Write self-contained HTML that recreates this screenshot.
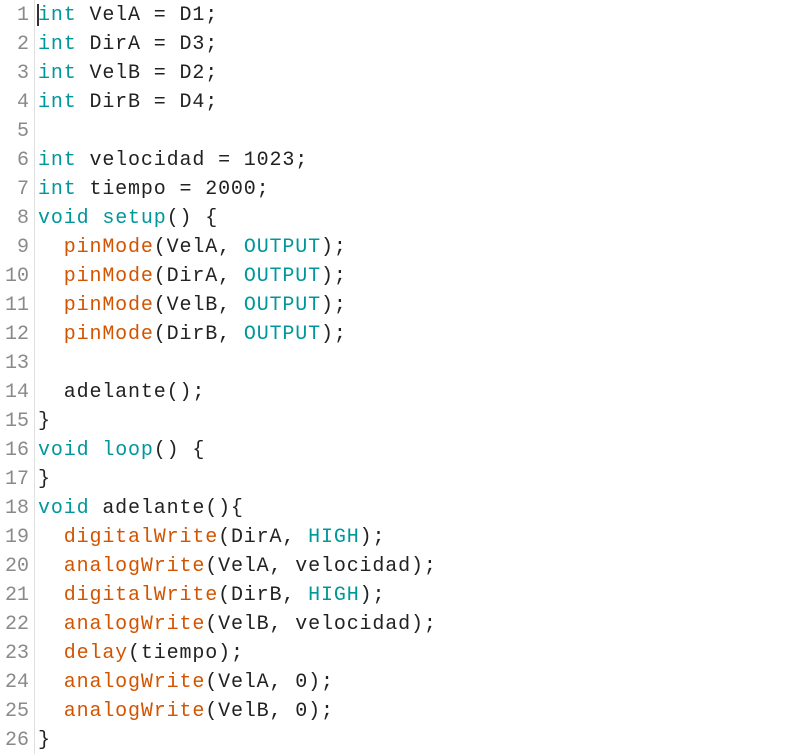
<!DOCTYPE html>
<html><head><style>
body{margin:0;width:794px;height:754px;background:#fff;overflow:hidden;position:relative}
.g{position:absolute;left:0;top:0;width:34px;height:754px;border-right:1px solid #e0e0e0}
pre{margin:0;position:absolute;top:1px;font-family:"Liberation Mono",monospace;font-size:20px;line-height:29px}
.n{left:0;width:29px;text-align:right;color:#8a8a8a}
.c{left:38px;color:#222;letter-spacing:0.86px}
.k{color:#00979c}.f{color:#d35400}
.cur{position:absolute;left:37px;top:4px;width:2px;height:22px;background:#333}
</style></head><body>
<div class="g"></div>
<pre class="n">1
2
3
4
5
6
7
8
9
10
11
12
13
14
15
16
17
18
19
20
21
22
23
24
25
26</pre>
<pre class="c"><span class="k">int</span> VelA = D1;
<span class="k">int</span> DirA = D3;
<span class="k">int</span> VelB = D2;
<span class="k">int</span> DirB = D4;

<span class="k">int</span> velocidad = 1023;
<span class="k">int</span> tiempo = 2000;
<span class="k">void</span> <span class="k">setup</span>() {
  <span class="f">pinMode</span>(VelA, <span class="k">OUTPUT</span>);
  <span class="f">pinMode</span>(DirA, <span class="k">OUTPUT</span>);
  <span class="f">pinMode</span>(VelB, <span class="k">OUTPUT</span>);
  <span class="f">pinMode</span>(DirB, <span class="k">OUTPUT</span>);

  adelante();
}
<span class="k">void</span> <span class="k">loop</span>() {
}
<span class="k">void</span> adelante(){
  <span class="f">digitalWrite</span>(DirA, <span class="k">HIGH</span>);
  <span class="f">analogWrite</span>(VelA, velocidad);
  <span class="f">digitalWrite</span>(DirB, <span class="k">HIGH</span>);
  <span class="f">analogWrite</span>(VelB, velocidad);
  <span class="f">delay</span>(tiempo);
  <span class="f">analogWrite</span>(VelA, 0);
  <span class="f">analogWrite</span>(VelB, 0);
}</pre>
<div class="cur"></div>
</body></html>
